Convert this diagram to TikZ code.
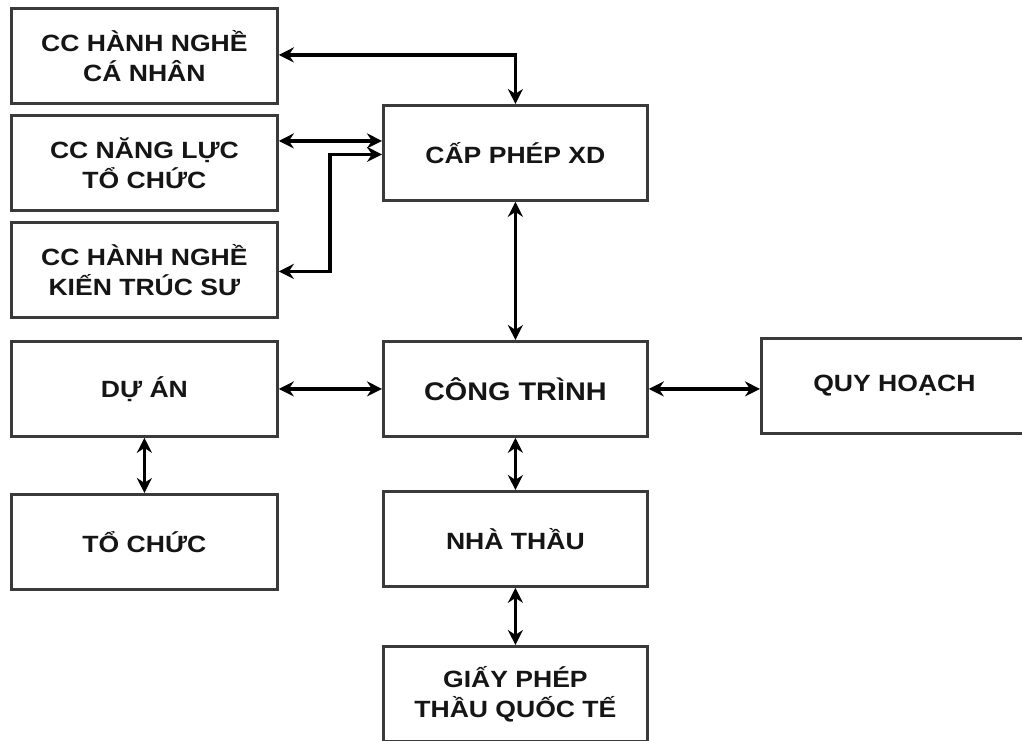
\documentclass[tikz,border=0pt]{standalone}
\usepackage{fontspec}
\newfontfamily\lab{Liberation Sans}[FakeStretch=1.13]
\usetikzlibrary{arrows.meta}
\definecolor{boxgray}{HTML}{3A3A3A}
\definecolor{txt}{HTML}{151515}
\begin{document}
\begin{tikzpicture}[x=1pt,y=-1pt,
  box/.style={draw=boxgray, line width=2.8pt, fill=white, minimum width=266pt, minimum height=95pt,
    inner sep=0pt, align=center, anchor=north west, text=txt,
    font=\lab\bfseries\fontsize{23.5}{30}\selectfont},
  cbox/.style={box, minimum width=264pt},
  dbl/.style={line width=3.8pt, draw=black,
    {Stealth[length=15pt,width=15pt]}-{Stealth[length=15pt,width=15pt]}}]
\useasboundingbox (0,0) rectangle (1022,740);
% left column
\node[box] (b1) at (10,7) {CC HÀNH NGHỀ\\CÁ NHÂN};
\node[box] (b2) at (10,114) {CC NĂNG LỰC\\TỔ CHỨC};
\node[box] (b3) at (10,221) {CC HÀNH NGHỀ\\KIẾN TRÚC SƯ};
\node[box] (du) at (10,340) {DỰ ÁN};
\node[box] (tc) at (10,493) {TỔ CHỨC};
% centre column
\node[cbox] (cap) at (382,104) {CẤP PHÉP XD};
\node[cbox, font=\lab\bfseries\fontsize{25.5}{30}\selectfont] (ct) at (382,340) {CÔNG TRÌNH};
\node[cbox] (nt) at (382,490) {NHÀ THẦU};
\node[cbox] (gp) at (382,645) {GIẤY PHÉP\\THẦU QUỐC TẾ};
% right
\node[box] (qh) at (760,337) {QUY HOẠCH};
% connectors
\draw[dbl] ([yshift=1pt]b1.east) -| (cap.north);
\coordinate (p2) at ([yshift=22pt]b2.east);
\draw[dbl] (p2) -- (p2 -| cap.west);
\coordinate (k3) at (330,0);
\draw[dbl] ([yshift=-1.5pt]b3.east) -| ([yshift=-1.5pt]k3 |- cap.west) -- ([yshift=-1.5pt]cap.west);
\draw[dbl] (cap.south) -- (ct.north);
\draw[dbl] (du.east) -- (ct.west);
\draw[dbl] (ct.east) -- (ct.east -| qh.west);
\draw[dbl] (du.south) -- (tc.north);
\draw[dbl] (ct.south) -- (nt.north);
\draw[dbl] (nt.south) -- (gp.north);
\end{tikzpicture}
\end{document}
